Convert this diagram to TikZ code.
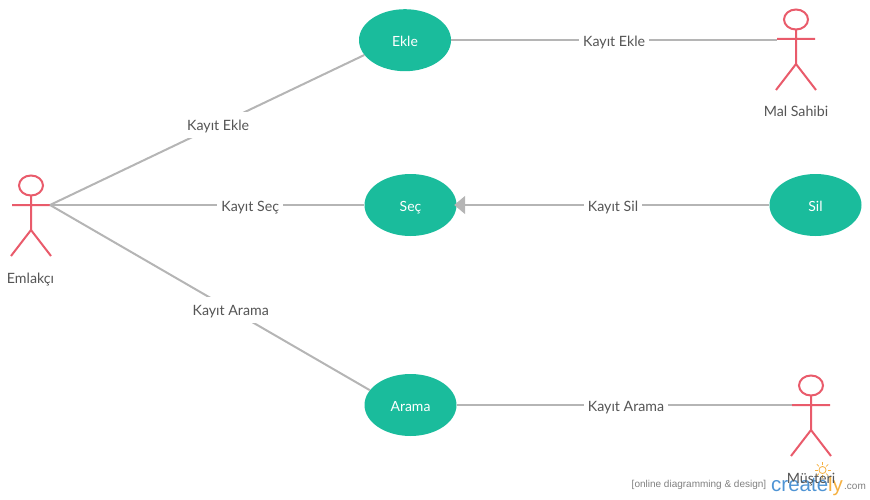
\documentclass[tikz,border=0pt]{standalone}
\usepackage{fontspec}
\setmainfont{Lato}
\newfontfamily\wmfont{Liberation Sans}
\usetikzlibrary{shapes.geometric,arrows.meta}
\definecolor{usecasegreen}{HTML}{1ABC9C}
\definecolor{actorred}{HTML}{E95B6B}
\definecolor{linegrey}{HTML}{B5B5B5}
\definecolor{textgrey}{HTML}{555555}
\definecolor{wmblue}{HTML}{4F94D4}
\definecolor{wmorange}{HTML}{F5B041}
\tikzset{
	usecase/.style={shape=ellipse,fill=usecasegreen,text=white,minimum width=92pt,minimum height=62pt,inner sep=0pt,text height=12pt,text depth=0pt,font=\fontsize{14}{16}\selectfont},
	conn/.style={draw=linegrey,line width=2pt},
	connlabel/.style={fill=white,text=textgrey,inner xsep=4pt,inner ysep=0pt,minimum height=26pt,text height=12pt,text depth=0pt,font=\fontsize{14.2}{16}\selectfont},
	actorname/.style={text=textgrey,inner sep=0pt,font=\fontsize{14.2}{16}\selectfont},
	wmtext/.style={text=gray,inner sep=0pt,font=\wmfont\fontsize{10}{11}\selectfont},
	actor/.pic={
		\draw[actorred,line width=2pt] (0,-19.5) ellipse (12 and 10);
		\draw[actorred,line width=2pt] (0,-9.5) -- (0,25) (-19,0) -- (19,0) (-20,51) -- (0,25) -- (20,51);
		\coordinate (-right) at (19,0);
	}
}
\begin{document}
\begin{tikzpicture}[x=1pt,y=-1pt]
	\useasboundingbox (0,0) rectangle (870,500);
	
	\node[usecase] (E) at (405,40.2) {Ekle};
	\node[usecase] (S) at (410.5,205) {Seç};
	\node[usecase] (L) at (815.5,205) {Sil};
	\node[usecase] (A) at (410.5,405) {Arama};
	
	\pic (M1) at (796,39) {actor};
	\pic (M2) at (31,205) {actor};
	\pic (M3) at (811,405) {actor};
	
	\coordinate (C1) at (777,40.2);
	\coordinate (C3) at (792,405);
	
	\path [conn] (M2-right) edge node[connlabel,pos=0.535] {Kayıt Ekle} (E.200);
	\path [conn] (M2-right) edge node[connlabel,pos=0.637] {Kayıt Seç} (S.west);
	\path [conn] (M2-right) edge node[connlabel,pos=0.565] {Kayıt Arama} (A.160);
	
	\path [conn] (E) edge node[connlabel,pos=0.5] {Kayıt Ekle} (C1);
	\draw [conn,shorten >=-2.5pt,-{Triangle[width=18pt,length=11pt,fill=linegrey]}] (L) -- node[connlabel,pos=0.5] {Kayıt Sil} (S);
	\path [conn] (A) edge node[connlabel,pos=0.505] {Kayıt Arama} (C3);
	
	% watermark
	\node[wmtext] (W1) at (699,485) {[online diagramming \& design]};
	\node[inner sep=0pt,anchor=base west,font=\wmfont\fontsize{20.5}{24}\selectfont] (W2) at (771,491) {\textcolor{wmblue}{create}\textcolor{wmorange}{ly}};
	\node[wmtext,anchor=base west] (W3) at (844,489) {.com};
	\node[circle,draw=wmorange,line width=0.8pt,inner sep=2.5pt] (B) at (822.5,470) {};
	\foreach \a in {0,45,...,315}
		\draw[wmorange,line width=0.7pt] (B) ++(\a:5pt) -- ++(\a:3pt);
	
	\node[actorname] (N1) at (796,111.5) {Mal Sahibi};
	\node[actorname] (N2) at (30.5,279.5) {Emlakçı};
	\node[actorname] (N3) at (811,479.5) {Müşteri};
\end{tikzpicture}
\end{document}
